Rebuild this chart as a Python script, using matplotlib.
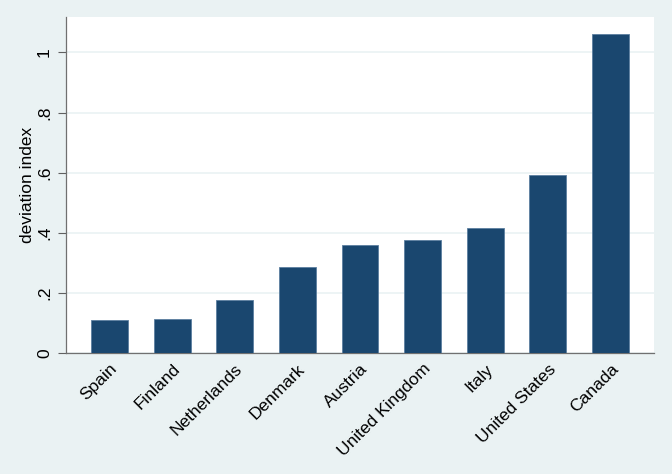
import matplotlib.pyplot as plt

countries = ['Spain', 'Finland', 'Netherlands', 'Denmark', 'Austria',
             'United Kingdom', 'Italy', 'United States', 'Canada']
deviation = [0.110, 0.112, 0.175, 0.286, 0.359, 0.375, 0.416, 0.591, 1.062]
yticks = [0, 0.2, 0.4, 0.6, 0.8, 1.0]
ytick_labels = ['0', '.2', '.4', '.6', '.8', '1']

plt.rcParams['font.family'] = ['Liberation Sans', 'DejaVu Sans']

bg = '#EAF2F3'
fig = plt.figure(figsize=(6.72, 4.74), dpi=100, facecolor=bg)
ax = fig.add_axes([0.0982, 0.2553, 0.875, 0.709])
ax.set_facecolor('white')

x = range(len(countries))
ax.bar(x, deviation, width=0.59, color='#1A476F', edgecolor='#5B7FA0',
       linewidth=0.6, zorder=3)

ax.set_xlim(-0.695, len(countries) - 1 + 0.695)
ax.set_ylim(0, 1.118)
ax.set_yticks(yticks)
ax.set_yticklabels(ytick_labels, rotation=90, va='center', fontsize=12.5)
ax.set_xticks(list(x))
ax.set_xticklabels(countries, rotation=45, ha='right', va='top',
                   rotation_mode='anchor', fontsize=12.5)
ax.tick_params(axis='x', length=0, pad=6)
ax.tick_params(axis='y', length=6, width=0.8, color='#606060', pad=4)
ax.yaxis.grid(True, color=bg, linewidth=1.2, zorder=0)
ax.set_ylabel('deviation index', fontsize=12.5, va='center')
ax.yaxis.set_label_coords(-0.065, 0.5)

for side in ['top', 'right']:
    ax.spines[side].set_visible(False)
for side in ['left', 'bottom']:
    ax.spines[side].set_color('#707070')
    ax.spines[side].set_linewidth(0.9)

fig.savefig('out.png', dpi=100, facecolor=bg)
